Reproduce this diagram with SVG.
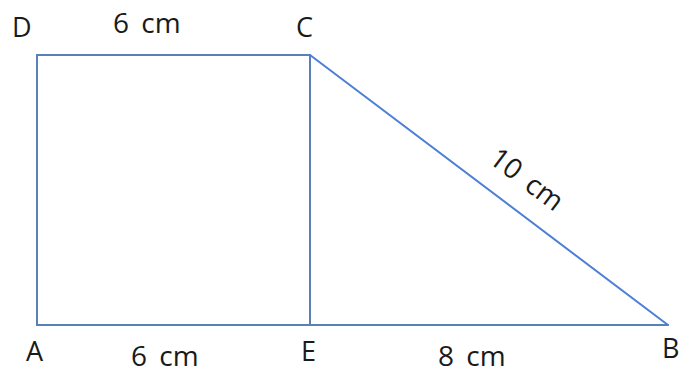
<svg xmlns="http://www.w3.org/2000/svg" width="680" height="374" viewBox="0 0 680 374">
<style>
.edge{fill:none;stroke-width:2;stroke-linecap:round;stroke-linejoin:miter}
.sq{stroke:#5a80b8}
.dg{stroke:#4d7fd6}
.t{font-family:"Open Sans","Liberation Sans",sans-serif;font-size:27px;fill:#1a1a1a}
.m{word-spacing:5px;font-size:28px}
</style>
<rect width="680" height="374" fill="#ffffff"/>
<g id="connectors">
<polyline class="edge sq" points="310,55 37,55 37,325 310,325"/>
<line class="edge sq" x1="310" y1="55" x2="310" y2="325"/>
<line class="edge sq" x1="310" y1="325" x2="668" y2="325"/>
<line class="edge dg" x1="310" y1="55" x2="668" y2="325"/>
</g>
<g id="D"><text class="t" x="12" y="37">D</text></g>
<g id="C"><text class="t" x="296" y="37">C</text></g>
<g id="A"><text class="t" x="26" y="361">A</text></g>
<g id="E"><text class="t" x="301" y="361">E</text></g>
<g id="B"><text class="t" x="662" y="358">B</text></g>
<g id="labels">
<text class="t m" x="113" y="33">6 cm</text>
<text class="t m" x="131" y="366">6 cm</text>
<text class="t m" x="438" y="366">8 cm</text>
<text class="t m" text-anchor="middle" transform="translate(521,187) rotate(37)">10 cm</text>
</g>
</svg>
